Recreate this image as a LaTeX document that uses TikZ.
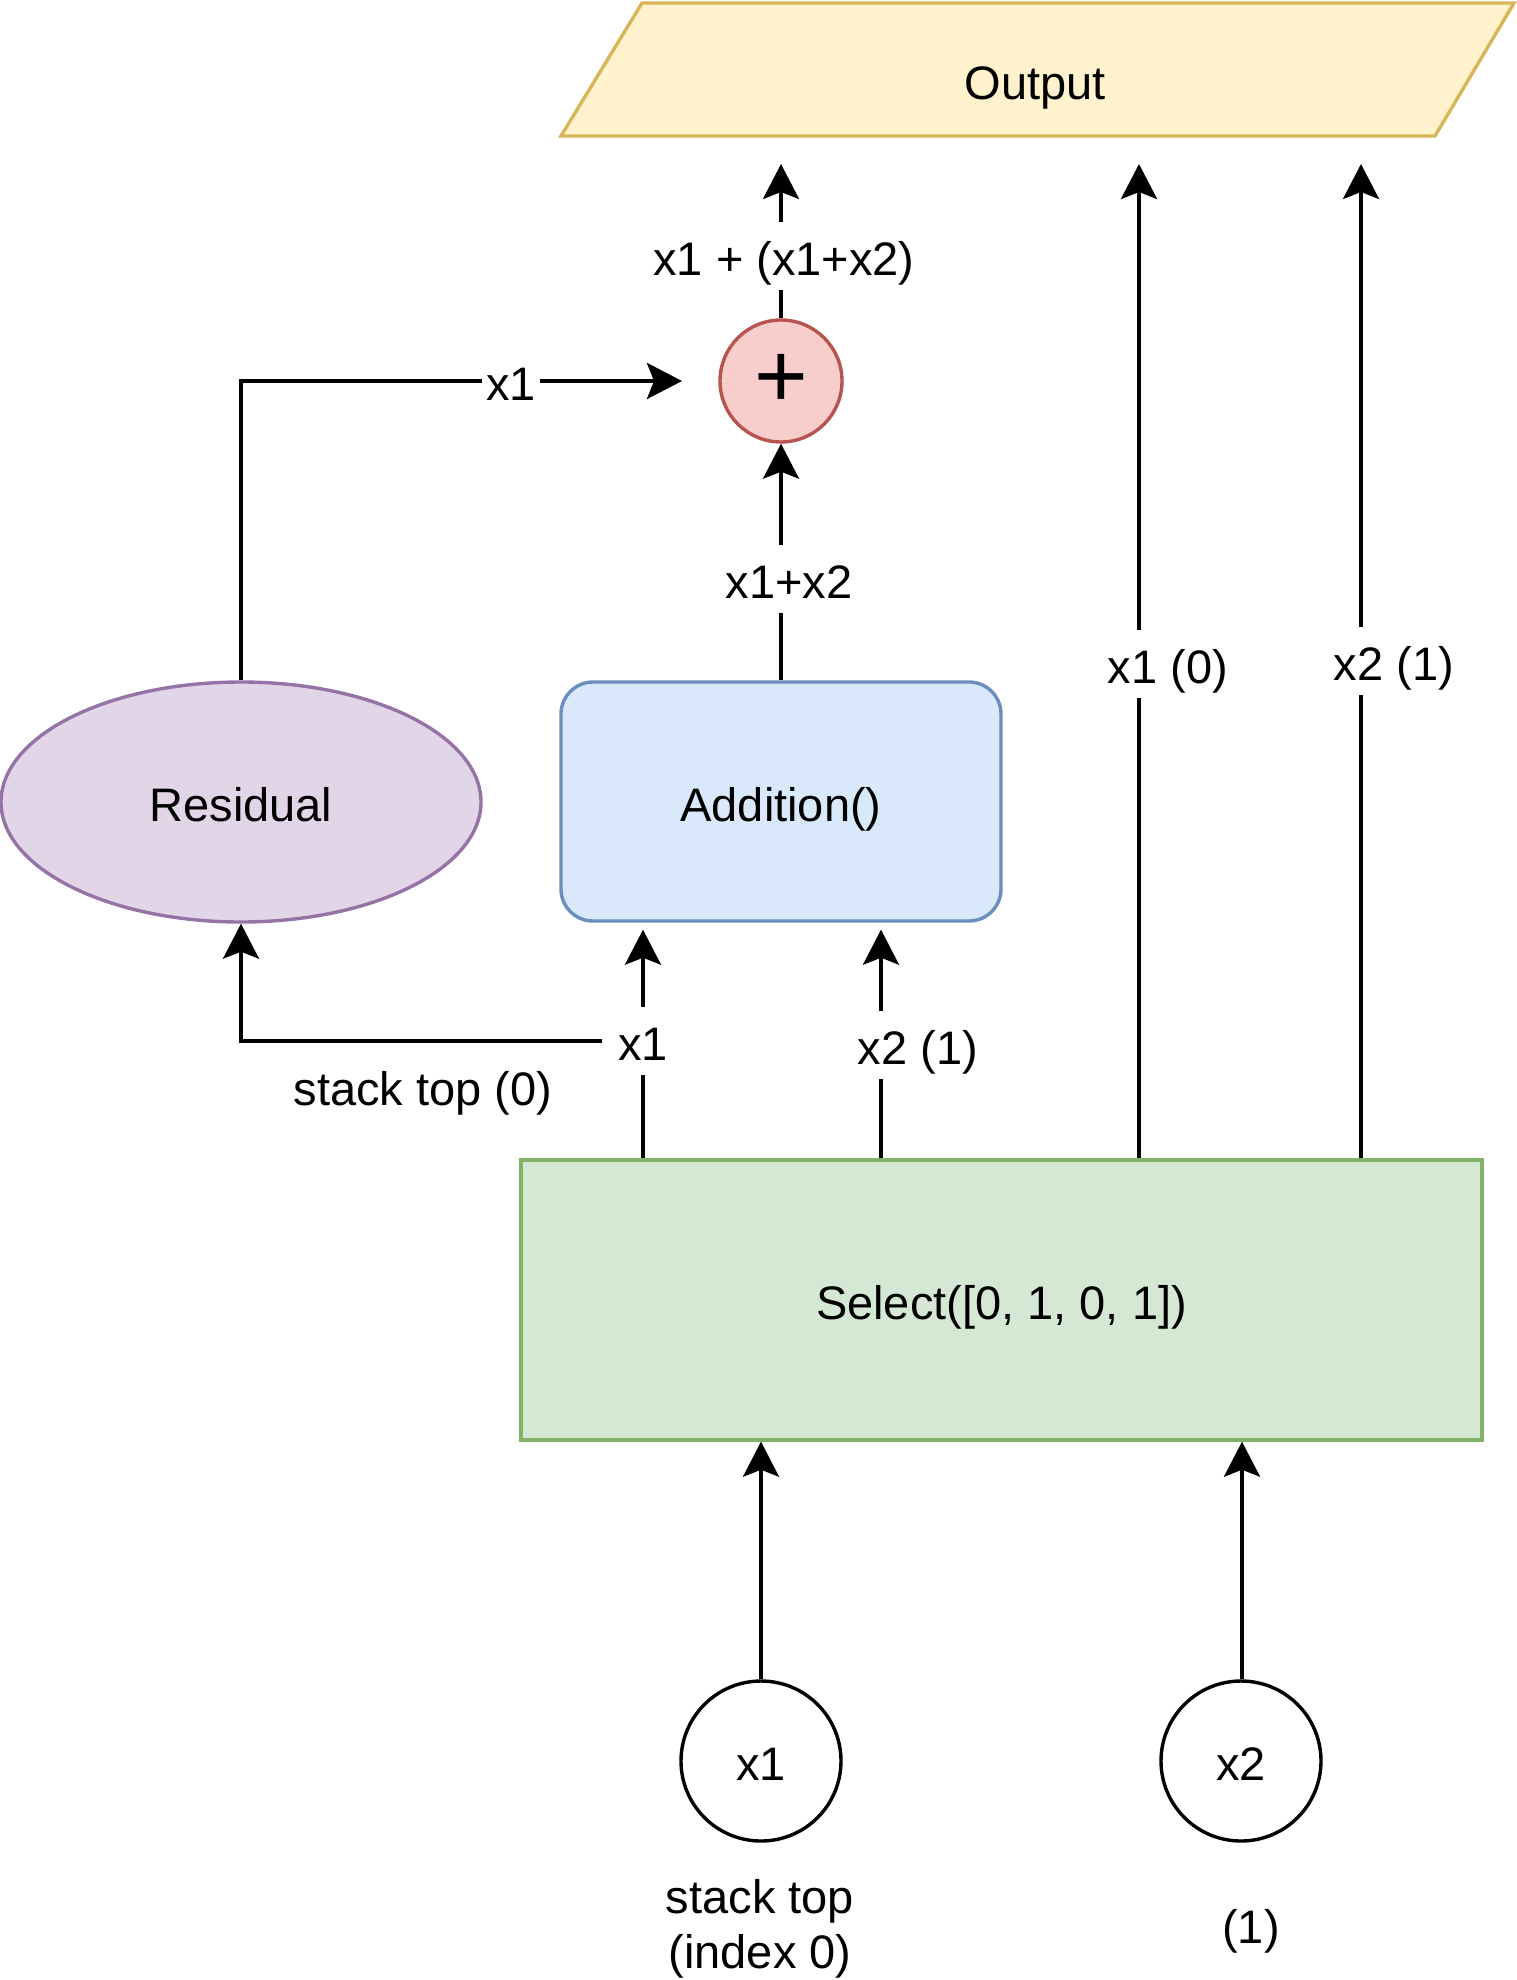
\documentclass[tikz,border=0pt]{standalone}
\usepackage{fontspec}
\setmainfont{Liberation Sans}
\usetikzlibrary{arrows.meta,shapes.geometric}
\definecolor{outF}{HTML}{FFF2CC}\definecolor{outD}{HTML}{D6B656}
\definecolor{plusF}{HTML}{F8CECC}\definecolor{plusD}{HTML}{B85450}
\definecolor{resF}{HTML}{E1D5E7}\definecolor{resD}{HTML}{9673A6}
\definecolor{addF}{HTML}{DAE8FC}\definecolor{addD}{HTML}{6C8EBF}
\definecolor{selF}{HTML}{D5E8D4}\definecolor{selD}{HTML}{82B366}
\tikzset{
  txt/.style={font=\fontsize{23.5}{27.5}\selectfont, inner sep=1pt, text height=24.7pt, text depth=5.2pt},
  lbl/.style={txt, fill=white, inner sep=2pt},
  shp/.style={txt, line width=1.7pt, inner sep=0pt},
  arr/.style={line width=1.8pt, -{Stealth[length=17.5pt,width=18pt,inset=3.5pt]}},
}
\begin{document}
\begin{tikzpicture}[x=0.5pt,y=-0.5pt]
\useasboundingbox (0,0) rectangle (1516,1980);
% Output parallelogram
\draw[line width=1.7pt, draw=outD, fill=outF] (642,3) -- (1514,3) -- (1435,136) -- (561,136) -- cycle;
\node[txt] (out) at (1035,80) {Output};
% shapes
\node[shp, circle, draw=plusD, fill=plusF, minimum size=61pt, text height=, text depth=] (plus) at (781,381) {\fontsize{46}{46}\selectfont +};
\node[shp, ellipse, draw=resD, fill=resF, minimum width=240pt, minimum height=120pt] (res) at (241,802) {Residual};
\node[shp, rectangle, rounded corners=16pt, draw=addD, fill=addF, minimum width=220pt, minimum height=119.5pt] (add) at (781,801.5) {Addition()};
\node[shp, rectangle, draw=selD, fill=selF, minimum width=480.5pt, minimum height=140pt] (sel) at (1001.5,1300) {Select([0, 1, 0, 1])};
\node[shp, circle, draw=black, minimum size=80pt] (in1) at (761,1761) {x1};
\node[shp, circle, draw=black, minimum size=80pt] (in2) at (1241,1761) {x2};
% x positions
\coordinate (ca) at (643,0);
\coordinate (cb) at (881,0);
\coordinate (cc) at (1139,164);
\coordinate (cd) at (1361,164);
\coordinate (ce) at (781,164);
\coordinate (cf) at (682,381);
\coordinate (ci) at (1242,0);
% inputs to select
\draw[arr] (in1.north) -- (in1.north |- sel.south);
\draw[arr] (in2.north -| ci) -- (sel.south -| ci);
% select to addition
\draw[arr] (sel.north -| ca) -- ([yshift=-3.5pt]add.south -| ca);
\node[lbl] (lx1) at (643,1041) {x1};
\draw[arr] (sel.north -| cb) -- ([yshift=-3.5pt]add.south -| cb);
\node[lbl] (lx2) at (918,1045) {x2 (1)};
% residual branch
\coordinate (rb) at ([xshift=-6pt]lx1.west);
\draw[arr] (rb) -- (rb -| res.south) -- (res.south);
\node[txt] (lst) at (423,1086) {stack top (0)};
% addition to plus
\draw[arr] (add.north) -- (plus.south);
\node[lbl] (lsum) at (789,579) {x1+x2};
% residual to plus
\draw[arr] (res.north) -- (res.north |- cf) -- (cf);
\node[lbl] (lrx) at (511,381) {x1};
% plus to output
\draw[arr] (plus.north) -- (ce);
\node[lbl] (lres) at (784,256) {x1 + (x1+x2)};
% select to output
\draw[arr] (sel.north -| cc) -- (cc);
\node[lbl] (lo1) at (1168,664) {x1 (0)};
\draw[arr] (sel.north -| cd) -- (cd);
\node[lbl] (lo2) at (1394,661) {x2 (1)};
% input captions
\node[txt, align=center] (cap1) at (760,1949) {stack top\\(index 0)};
\node[txt] (cap2) at (1251,1924) {(1)};
\end{tikzpicture}
\end{document}
